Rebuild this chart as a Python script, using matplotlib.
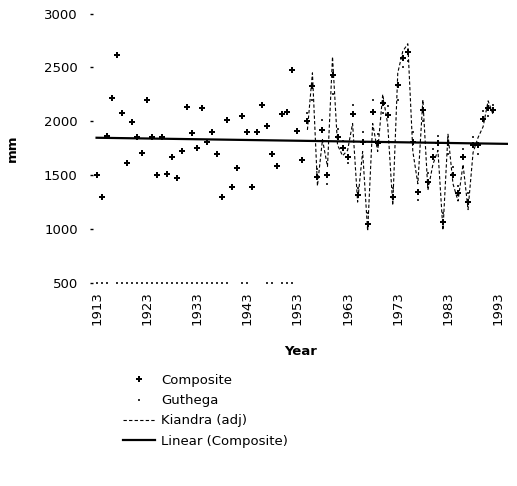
#!/usr/bin/python

import numpy as np
import matplotlib
matplotlib.use("Agg")
import matplotlib.pyplot as plt

# annual precipitation (mm)
years = list(range(1913, 1993))

composite = [1506, 1298, 1862, 2221, 2614, 2078, 1614, 1989, 1850, 1707,
             2194, 1850, 1500, 1850, 1509, 1670, 1478, 1723, 2134, 1887,
             1748, 2119, 1809, 1902, 1692, 1298, 2011, 1391, 1568, 2048,
             1902, 1391, 1902, 2150, 1958, 1692, 1583, 2066, 2088, 2475,
             1908, 1640, 2000, 2326, 1484, 1917, 1500, 2429, 1856, 1750,
             1670, 2064, 1314, 1809, 1051, 2088, 1800, 2166, 2057, 1298,
             2336, 2584, 2645, 1809, 1345, 2103, 1437, 1670, 1794, 1066,
             1794, 1500, 1330, 1670, 1252, 1780, 1778, 2026, 2119, 2103]

nan = np.nan
# early years sit on the 500 line (no record), real values from 1955
guthega = [500, 500, 500, nan, 500, 500, 500, 500, 500, 500,
           500, 500, 500, 500, 500, 500, 500, 500, 500, 500,
           500, 500, 500, 500, 500, 500, 500, nan, nan, 500,
           500, nan, nan, nan, 500, 500, nan, 500, 500, 500,
           nan, nan, 2080, 2200, 1560, 2010, 1420, 2250, 1930, 1820,
           1610, 2150, 1380, 1900, 1150, 2200, 1880, 2080, 2140, 1380,
           2200, 2500, 2560, 1900, 1270, 2000, 1520, 1740, 1860, 1150,
           1700, 1580, 1400, 1740, 1330, 1850, 1700, 2100, 2050, 2150]

kiandra_years = list(range(1955, 1993))
kiandra = [1920, 2450, 1400, 1830, 1580, 2600, 1780, 1680, 1730, 1980,
           1250, 1720, 980, 1980, 1720, 2250, 1970, 1220, 2450, 2650,
           2720, 1720, 1420, 2200, 1360, 1600, 1730, 990, 1880, 1420,
           1260, 1600, 1180, 1710, 1850, 1950, 2190, 2060]

xticks = list(range(1913, 1994, 10))
yticks = [500, 1000, 1500, 2000, 2500, 3000]

plt.rcParams['font.family'] = ['DejaVu Sans']
fs = 9.5

fig = plt.figure(figsize=(5.17, 4.86), dpi=100)
ax = fig.add_axes([0.18, 0.418, 0.803, 0.554])

ax.plot(years, guthega, linestyle='none', marker='s', markersize=1.6,
        markeredgewidth=0, color='#333333', label='Guthega')
ax.plot(kiandra_years, kiandra, color='black', linestyle=(0, (3, 2)),
        linewidth=0.8, label='Kiandra (adj)')
ax.plot(years, composite, linestyle='none', marker='P', markersize=4,
        color='black', markeredgewidth=0, label='Composite')

# linear trend of the composite
coef = np.polyfit(years, composite, 1)
trend_x = np.array([1913, 1995])
ax.plot(trend_x, np.polyval(coef, trend_x), color='black', linewidth=1.6,
        label='Linear (Composite)')

ax.set_xlim(1912.3, 1995)
ax.set_ylim(500, 3000)
ax.set_xticks(xticks)
ax.set_xticklabels([str(y) for y in xticks], rotation=90, fontsize=fs)
ax.set_yticks(yticks)
ax.set_yticklabels([str(v) for v in yticks], fontsize=fs)
ax.tick_params(axis='x', length=0, pad=6)
ax.tick_params(axis='y', length=2, width=1, pad=9)
for s in ax.spines.values():
    s.set_visible(False)

ax.set_ylabel('mm', fontsize=fs, fontweight='bold', labelpad=18)
ax.set_xlabel('Year', fontsize=fs, fontweight='bold', labelpad=14)

handles, labels = ax.get_legend_handles_labels()
order = [2, 0, 1, 3]
fig.legend([handles[i] for i in order], [labels[i] for i in order],
           loc='upper left', bbox_to_anchor=(0.215, 0.255), frameon=False,
           fontsize=fs, handlelength=2.4, labelspacing=0.55,
           handletextpad=0.5)

fig.savefig('out.png', dpi=100)
